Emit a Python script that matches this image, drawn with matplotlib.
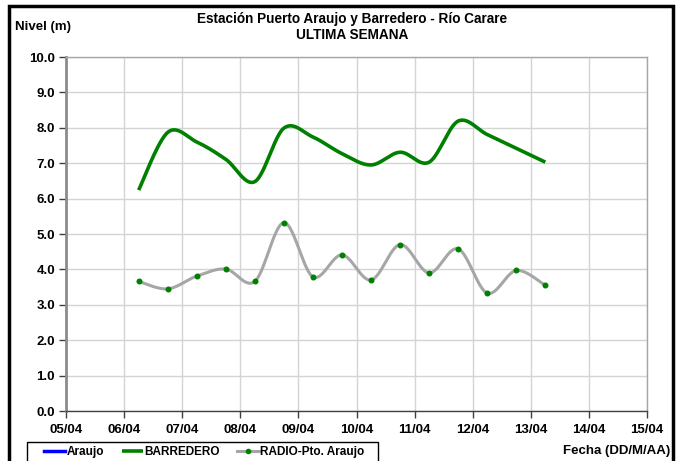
import numpy as np
import pandas as pd
import matplotlib
matplotlib.use('Agg')
import matplotlib.pyplot as plt
import matplotlib.dates as mdates
from matplotlib.patches import Rectangle

# datos de la ultima semana (lecturas cada 12 h)
fechas = ['2013-04-06 06:00', '2013-04-06 18:00', '2013-04-07 06:00', '2013-04-07 18:00',
          '2013-04-08 06:00', '2013-04-08 18:00', '2013-04-09 06:00', '2013-04-09 18:00',
          '2013-04-10 06:00', '2013-04-10 18:00', '2013-04-11 06:00', '2013-04-11 18:00',
          '2013-04-12 06:00', '2013-04-12 18:00', '2013-04-13 06:00']
barredero = [6.24, 7.87, 7.60, 7.11, 6.48, 7.99, 7.74, 7.27, 6.95, 7.31, 7.03, 8.19, 7.81, 7.42, 7.03]
radio_araujo = [3.66, 3.45, 3.81, 4.01, 3.66, 5.32, 3.79, 4.41, 3.70, 4.70, 3.90, 4.58, 3.33, 3.97, 3.55]
araujo = []

x_ticks = pd.date_range('2013-04-05', '2013-04-15', freq='D')


def suavizar(x, y, n=30):
    # curva suavizada tipo Excel (Bezier / Catmull-Rom)
    x = np.asarray(x, float)
    y = np.asarray(y, float)
    px = np.concatenate([[x[0]], x, [x[-1]]])
    py = np.concatenate([[y[0]], y, [y[-1]]])
    xs, ys = [], []
    t = np.linspace(0, 1, n)
    for i in range(1, len(px) - 2):
        p0 = np.array([px[i], py[i]])
        p3 = np.array([px[i + 1], py[i + 1]])
        c1 = p0 + (np.array([px[i + 1], py[i + 1]]) - np.array([px[i - 1], py[i - 1]])) / 6
        c2 = p3 - (np.array([px[i + 2], py[i + 2]]) - np.array([px[i], py[i]])) / 6
        b = ((1 - t) ** 3)[:, None] * p0 + (3 * (1 - t) ** 2 * t)[:, None] * c1 \
            + (3 * (1 - t) * t ** 2)[:, None] * c2 + (t ** 3)[:, None] * p3
        xs.extend(b[:, 0])
        ys.extend(b[:, 1])
    return np.array(xs), np.array(ys)


plt.rcParams['font.family'] = ['Liberation Sans', 'DejaVu Sans']
plt.rcParams['font.weight'] = 'bold'

fig = plt.figure(figsize=(6.83, 4.61), dpi=100)
ax = fig.add_axes([66 / 683, 1 - 411 / 461, (647 - 66) / 683, (411 - 57) / 461])

t = mdates.date2num(pd.to_datetime(fechas))

ax.plot(mdates.date2num(pd.to_datetime(araujo)), araujo, color='#0000ff', lw=2.5, label='Araujo')
xb, yb = suavizar(t, barredero)
ax.plot(xb, yb, color='#008000', lw=2.6, label='BARREDERO', solid_capstyle='butt')
xr, yr = suavizar(t, radio_araujo)
ax.plot(xr, yr, color='#a6a6a6', lw=2.2, zorder=3)
ax.plot(t, radio_araujo, ls='none', marker='o', ms=3.3, color='#008000', zorder=4)
ax.plot([], [], color='#a6a6a6', lw=2.2, marker='o', ms=3, mfc='#008000', mec='#008000',
        label='RADIO-Pto. Araujo')

ax.set_xlim(mdates.date2num(x_ticks[0]), mdates.date2num(x_ticks[-1]))
ax.set_ylim(0, 10)
ax.set_xticks(mdates.date2num(x_ticks))
ax.xaxis.set_major_formatter(mdates.DateFormatter('%d/%m'))
ax.set_yticks(np.arange(0, 10.01, 1.0))
ax.yaxis.set_major_formatter(plt.FormatStrFormatter('%.1f'))
ax.grid(True, color='#d4d4d4', lw=1)
ax.set_axisbelow(True)

for spine in ['top', 'right']:
    ax.spines[spine].set_color('#a6a6a6')
    ax.spines[spine].set_linewidth(1)
ax.spines['left'].set_color('#8c8c8c')
ax.spines['left'].set_linewidth(2)
ax.spines['bottom'].set_color('#404040')
ax.spines['bottom'].set_linewidth(1)
ax.tick_params(axis='both', direction='out', length=5, width=1, color='#404040',
               labelsize=9.5, pad=3)
ax.tick_params(axis='x', pad=4)

fig.text(0.515, 1 - 19 / 461, 'Estación Puerto Araujo y Barredero - Río Carare',
         ha='center', va='center', fontsize=9.8, fontweight='bold')
fig.text(0.515, 1 - 35 / 461, 'ULTIMA SEMANA', ha='center', va='center',
         fontsize=9.8, fontweight='bold')
fig.text(15 / 683, 1 - 27 / 461, 'Nivel (m)', ha='left', va='center',
         fontsize=9.5, fontweight='bold')
fig.text(670 / 683, 1 - 451 / 461, 'Fecha (DD/M/AA)', ha='right', va='center',
         fontsize=9.5, fontweight='bold')

leg = fig.legend(loc='center left', bbox_to_anchor=(44 / 683, 1 - 452 / 461), ncol=3,
                 fontsize=8.5, frameon=False, handlelength=1.8,
                 handletextpad=0.1, columnspacing=1.5, borderpad=0, borderaxespad=0)

# recuadro de la leyenda
fig.patches.append(Rectangle((27 / 683, -0.05), (378 - 27) / 683, 0.05 + 1 - 442 / 461,
                             transform=fig.transFigure, fill=False, ec='black', lw=1))
# marco exterior
fig.patches.append(Rectangle((9 / 683, -0.05), (673 - 9) / 683, 1.05 - 6 / 461,
                             transform=fig.transFigure, fill=False, ec='black', lw=2.5))

plt.savefig('out.png', dpi=100)
